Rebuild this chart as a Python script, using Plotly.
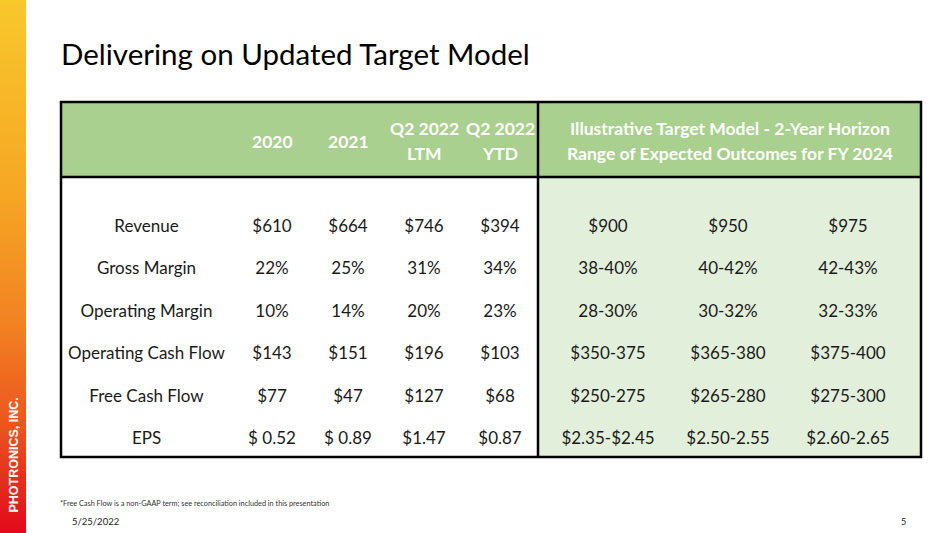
import plotly.graph_objects as go

# ---------------- data ----------------
TITLE = "Delivering on Updated Target Model"
ROW_LABELS = ["Revenue", "Gross Margin", "Operating Margin", "Operating Cash Flow", "Free Cash Flow", "EPS"]
HIST_COLS = ["2020", "2021", "Q2 2022 LTM", "Q2 2022 YTD"]
HIST_HEADER_LINES = [["2020"], ["2021"], ["Q2 2022", "LTM"], ["Q2 2022", "YTD"]]
HIST_2020 = ["$610", "22%", "10%", "$143", "$77", "$ 0.52"]
HIST_2021 = ["$664", "25%", "14%", "$151", "$47", "$ 0.89"]
HIST_LTM = ["$746", "31%", "20%", "$196", "$127", "$1.47"]
HIST_YTD = ["$394", "34%", "23%", "$103", "$68", "$0.87"]
TARGET_COLS = ["Low", "Mid", "High"]
TARGET_HEADER = ["Illustrative Target Model - 2-Year Horizon", "Range of Expected Outcomes for FY 2024"]
TARGET_LOW = ["$900", "38-40%", "28-30%", "$350-375", "$250-275", "$2.35-$2.45"]
TARGET_MID = ["$950", "40-42%", "30-32%", "$365-380", "$265-280", "$2.50-2.55"]
TARGET_HIGH = ["$975", "42-43%", "32-33%", "$375-400", "$275-300", "$2.60-2.65"]
FOOTNOTE = "*Free Cash Flow is a non-GAAP term; see reconciliation included in this presentation"
DATE = "5/25/2022"
PAGE = "5"
BRAND = "PHOTRONICS, INC."

# ---------------- layout helpers ----------------
W, H = 951, 533
def px(x):
    return x / W
def py(y):
    return 1 - y / H

FONT = "Lato"
TEXT_COLOR = "#1a1a1a"
HEAD_GREEN = "#A9D08E"
LIGHT_GREEN = "#E2EFDA"
BODY_SIZE = 17
HEAD_SIZE = 17.5

fig = go.Figure()

# brand gradient bar
fig.add_trace(go.Heatmap(
    z=[[0], [1]], y=[0, 1], x=[0], zsmooth="best", showscale=False, hoverinfo="skip",
    colorscale=[[0, "#F8C72C"], [0.35, "#F6A824"], [0.6, "#F28322"], [0.8, "#EC5420"], [1, "#E2081B"]],
    xaxis="x4", yaxis="y4"))

# row labels
fig.add_trace(go.Scatter(
    x=["Metric"] * len(ROW_LABELS), y=ROW_LABELS, mode="text", text=ROW_LABELS,
    textposition="middle center", textfont=dict(family=FONT, size=BODY_SIZE, color=TEXT_COLOR),
    hoverinfo="skip", xaxis="x", yaxis="y"))

# historical columns
for col, vals in zip(HIST_COLS, [HIST_2020, HIST_2021, HIST_LTM, HIST_YTD]):
    fig.add_trace(go.Scatter(
        x=[col] * len(vals), y=ROW_LABELS, mode="text", text=vals,
        textposition="middle center", textfont=dict(family=FONT, size=BODY_SIZE, color=TEXT_COLOR),
        hoverinfo="skip", xaxis="x2", yaxis="y"))

# target columns
for col, vals in zip(TARGET_COLS, [TARGET_LOW, TARGET_MID, TARGET_HIGH]):
    fig.add_trace(go.Scatter(
        x=[col] * len(vals), y=ROW_LABELS, mode="text", text=vals,
        textposition="middle center", textfont=dict(family=FONT, size=BODY_SIZE, color=TEXT_COLOR),
        hoverinfo="skip", xaxis="x3", yaxis="y"))

# shapes
shapes = [
    dict(type="rect", xref="paper", yref="paper", x0=px(61), x1=px(921), y0=py(177), y1=py(102),
         fillcolor=HEAD_GREEN, line=dict(width=0), layer="below"),
    dict(type="rect", xref="paper", yref="paper", x0=px(538), x1=px(921), y0=py(457), y1=py(177),
         fillcolor=LIGHT_GREEN, line=dict(width=0), layer="below"),
    dict(type="rect", xref="paper", yref="paper", x0=px(61), x1=px(921), y0=py(457), y1=py(102),
         line=dict(color="black", width=2.5)),
    dict(type="line", xref="paper", yref="paper", x0=px(61), x1=px(921), y0=py(177), y1=py(177),
         line=dict(color="black", width=2.5)),
    dict(type="line", xref="paper", yref="paper", x0=px(538), x1=px(538), y0=py(457), y1=py(102),
         line=dict(color="black", width=2.5)),
]

annotations = []
# title
annotations.append(dict(text=TITLE, xref="paper", yref="paper", x=px(59), y=py(54),
                        xanchor="left", yanchor="middle", showarrow=False,
                        font=dict(family=FONT, size=29.5, color="black")))
# historical headers (x given as category index on the x2 axis)
for i, lines in enumerate(HIST_HEADER_LINES):
    ys = [141] if len(lines) == 1 else [128, 154]
    for line, yy in zip(lines, ys):
        annotations.append(dict(text="<b>" + line + "</b>", xref="x2", yref="paper", x=i, y=py(yy),
                                xanchor="center", yanchor="middle", showarrow=False,
                                font=dict(family=FONT, size=HEAD_SIZE, color="white")))
# target header
for line, yy in zip(TARGET_HEADER, [128, 154]):
    annotations.append(dict(text="<b>" + line + "</b>", xref="paper", yref="paper", x=px(729.5), y=py(yy),
                            xanchor="center", yanchor="middle", showarrow=False,
                            font=dict(family=FONT, size=HEAD_SIZE, color="white")))
# footer
annotations.append(dict(text=FOOTNOTE, xref="paper", yref="paper", x=px(58), y=py(503),
                        xanchor="left", yanchor="middle", showarrow=False,
                        font=dict(family=FONT, size=7.3, color="#333333")))
annotations.append(dict(text=DATE, xref="paper", yref="paper", x=px(70), y=py(521),
                        xanchor="left", yanchor="middle", showarrow=False,
                        font=dict(family=FONT, size=9.5, color="#222222")))
annotations.append(dict(text=PAGE, xref="paper", yref="paper", x=px(903), y=py(521),
                        xanchor="center", yanchor="middle", showarrow=False,
                        font=dict(family=FONT, size=9, color="#222222")))
# brand text
annotations.append(dict(text="<b>" + BRAND + "</b>", xref="paper", yref="paper", x=px(13.5), y=py(455),
                        xanchor="center", yanchor="middle", showarrow=False, textangle=-90,
                        font=dict(family="Liberation Sans", size=12.5, color="white")))

hidden = dict(visible=False, showgrid=False, zeroline=False, fixedrange=True)
fig.update_layout(
    width=W, height=H, margin=dict(l=0, r=0, t=0, b=0),
    paper_bgcolor="white", plot_bgcolor="rgba(0,0,0,0)", showlegend=False,
    shapes=shapes, annotations=annotations,
    xaxis=dict(hidden, type="category", categoryarray=["Metric"], range=[-0.5, 0.5],
               domain=[px(61), px(232)], anchor="y"),
    xaxis2=dict(hidden, type="category", categoryorder="array", categoryarray=HIST_COLS,
                range=[-0.5, 3.5], domain=[px(234), px(538)], anchor="y"),
    xaxis3=dict(hidden, type="category", categoryorder="array", categoryarray=TARGET_COLS,
                range=[-0.5, 2.5], domain=[px(548), px(908)], anchor="y"),
    yaxis=dict(hidden, type="category", categoryorder="array", categoryarray=ROW_LABELS,
               range=[5.5, -0.5], domain=[py(461), py(206)]),
    xaxis4=dict(hidden, domain=[0, px(26)], range=[-0.5, 0.5], anchor="y4"),
    yaxis4=dict(hidden, domain=[0, 1], range=[1, 0], anchor="x4"),
)

fig.write_html("out.html", config={"displayModeBar": False},
               post_script="document.body.style.margin='0';document.body.style.overflow='hidden';")
